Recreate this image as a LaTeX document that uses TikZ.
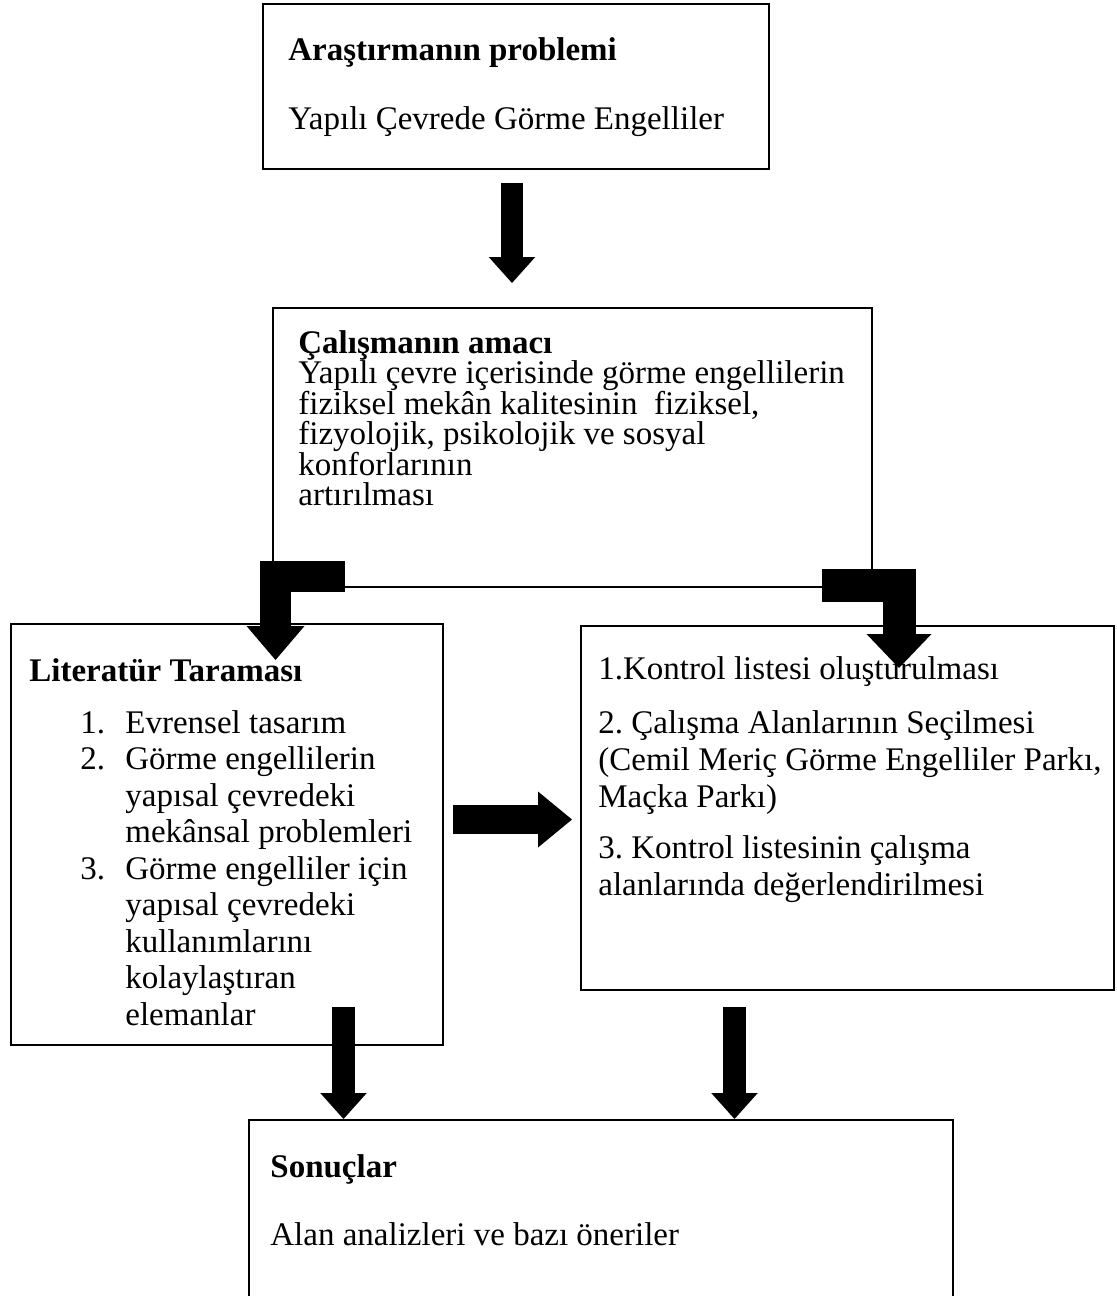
\documentclass[tikz,border=0pt]{standalone}
\usepackage{fontspec}
\setmainfont{Liberation Serif}
\usepackage{tikz}
\usetikzlibrary{shapes,arrows,arrows.meta,positioning}
\tikzstyle{box} = [rectangle, draw, line width=1pt, anchor=north west, inner sep=0pt]
\tikzstyle{txt} = [align=left, inner sep=0pt]
\newcommand{\litem}[1]{\hspace*{25.5pt}\makebox[22.5pt][l]{#1}}
\newcommand{\lcont}{\hspace*{48pt}}
\frenchspacing

\begin{document}
\begin{tikzpicture}[
x=0.5pt, y=-0.5pt,
every node/.style={font=\fontsize{16.5}{19}\selectfont},
slim arrow/.style={line width=11.25pt, -{Triangle[length=13pt, width=23.25pt, line width=0pt]}},
wide arrow/.style={line width=15.5pt, -{Triangle[length=17pt, width=#1, line width=0pt]}},
wide arrow/.default=29pt]
\useasboundingbox (0,0) rectangle (1117,1296);
% the five frames
\node[box, minimum width=253pt, minimum height=82.5pt] (problem) at (262,3) {};
\node[box, minimum width=299.5pt, minimum height=139.5pt] (amac) at (272,307) {};
\node[box, minimum width=216pt, minimum height=210.5pt] (literatur) at (10,623) {};
\node[box, minimum width=266.5pt, minimum height=182pt] (kontrol) at (580,625) {};
\node[box, minimum width=352pt, minimum height=90.5pt] (sonuc) at (248,1119) {};
% block arrows
\coordinate (problem-out) at (512,183);
\coordinate (amac-in) at (512,283);
\draw[slim arrow] (problem-out) -- (amac-in);
\coordinate (amac-left) at (345,576);
\coordinate (literatur-in) at (275.5,660);
\draw[wide arrow] (amac-left) -| (literatur-in);
\coordinate (amac-right) at (822,585);
\coordinate (kontrol-in) at (899,668);
\draw[wide arrow=32.5pt, line width=16.5pt] (amac-right) -| (kontrol-in);
\coordinate (literatur-out) at (453,819.5);
\coordinate (kontrol-left) at (572,819.5);
\draw[wide arrow=28pt, line width=14.5pt] (literatur-out) -- (kontrol-left);
\coordinate (literatur-down) at (343.5,1007);
\coordinate (kontrol-down) at (734.5,1007);
\draw[slim arrow] (literatur-down) -- (literatur-down |- sonuc.north);
\draw[slim arrow] (kontrol-down) -- (kontrol-down |- sonuc.north);
% texts, hung from the frame corners
\node[txt, below right=17.25pt and 13pt of problem.north west] (problem-text)
  {\textbf{Araştırmanın problemi}\\[15.5pt]Yapılı Çevrede Görme Engelliler};
\node[txt, font=\fontsize{16.5}{15.25}\selectfont,
  below right=11.5pt and 13pt of amac.north west] (amac-text)
  {\textbf{Çalışmanın amacı}\\Yapılı çevre içerisinde görme engellilerin\\
   fiziksel mekân kalitesinin\ \ fiziksel,\\fizyolojik, psikolojik ve sosyal\\
   konforlarının\\artırılması};
\node[txt, font=\fontsize{16.5}{18.25}\selectfont,
  below right=17.5pt and 9.5pt of literatur.north west] (literatur-text)
  {\textbf{Literatür Taraması}\\[7.75pt]
   \litem{1.}Evrensel tasarım\\
   \litem{2.}Görme engellilerin\\
   \lcont yapısal çevredeki\\
   \lcont mekânsal problemleri\\
   \litem{3.}Görme engelliler için\\
   \lcont yapısal çevredeki\\
   \lcont kullanımlarını\\
   \lcont kolaylaştıran\\
   \lcont elemanlar};
\node[txt, font=\fontsize{16.5}{18.5}\selectfont,
  below right=15.75pt and 9pt of kontrol.north west] (kontrol-text)
  {1.Kontrol listesi oluşturulması\\[8.5pt]
   2. Çalışma Alanlarının Seçilmesi\\
   (Cemil Meriç Görme Engelliler Parkı,\\
   Maçka Parkı)\\[7pt]
   3. Kontrol listesinin çalışma\\
   alanlarında değerlendirilmesi};
\node[txt, below right=17.75pt and 11pt of sonuc.north west] (sonuc-text)
  {\textbf{Sonuçlar}\\[15pt]Alan analizleri ve bazı öneriler};
\end{tikzpicture}
\end{document}
